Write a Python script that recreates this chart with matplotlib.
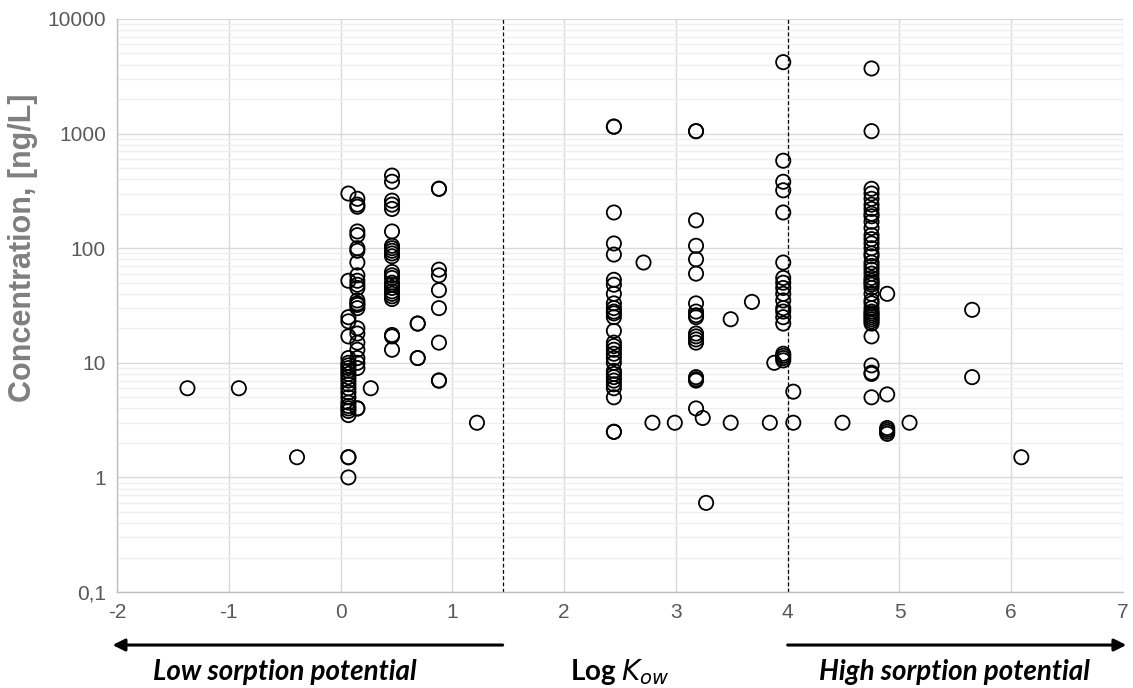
import matplotlib
matplotlib.use("Agg")
import matplotlib.pyplot as plt
from matplotlib.ticker import FixedLocator, FixedFormatter, LogLocator, NullFormatter

# ---- data: log Kow (x) and concentration ng/L (y), grouped by compound column ----
col_x = [-1.37, -0.91, -0.39, 0.07, 0.15, 0.27, 0.46, 0.69, 0.88, 1.22,
         2.445, 2.71, 2.79, 2.99, 3.18, 3.24, 3.27, 3.49, 3.68, 3.84, 3.88,
         3.96, 4.05, 4.49, 4.75, 4.89, 5.09, 5.65, 6.09]

col_y = [
    [6],
    [6],
    [1.5],
    [300, 52, 25, 23, 17, 11, 10, 9.5, 9, 8.5, 8, 7.5, 7, 6.5, 6, 5.5, 5, 4.5,
     4.2, 4, 3.8, 3.5, 1.5, 1.5, 1.0],
    [270, 240, 230, 140, 130, 100, 95, 75, 58, 52, 48, 45, 35, 33, 32, 30, 20,
     18, 15, 13, 11, 10, 9, 4, 4],
    [6],
    [430, 380, 260, 240, 220, 140, 105, 100, 95, 90, 85, 62, 58, 55, 50, 48, 45,
     42, 40, 38, 36, 17.5, 17, 13],
    [22, 22, 11, 11],
    [330, 330, 65, 58, 43, 30, 15, 7, 7],
    [3],
    [1150, 1150, 205, 110, 88, 53, 48, 40, 33, 30, 28, 27, 25, 19, 15, 14, 13,
     12, 11, 10, 8.5, 8, 7.5, 7, 6.5, 6, 5, 2.5, 2.5],
    [75],
    [3],
    [3],
    [1050, 1050, 175, 105, 80, 60, 33, 28, 26, 25, 18, 17, 16, 15, 7.5, 7.2, 7, 4],
    [3.3],
    [0.6],
    [24, 3],
    [34],
    [3],
    [10],
    [4200, 580, 380, 320, 205, 75, 55, 50, 45, 40, 35, 30, 28, 25, 22, 12, 11.5,
     11, 10.5],
    [5.6, 3],
    [3],
    [3700, 1050, 330, 300, 270, 240, 220, 200, 190, 170, 150, 130, 120, 110, 100,
     90, 85, 75, 70, 65, 60, 55, 52, 50, 48, 45, 40, 35, 33, 30, 28, 27, 26, 25,
     24, 23, 22, 17, 9.5, 8.2, 8, 5],
    [40, 5.3, 2.7, 2.6, 2.5, 2.4],
    [3],
    [29, 7.5],
    [1.5],
]

x_ticks = [-2, -1, 0, 1, 2, 3, 4, 5, 6, 7]
y_ticks = [0.1, 1, 10, 100, 1000, 10000]
y_tick_labels = ["0,1", "1", "10", "100", "1000", "10000"]
threshold_lines = [1.45, 4.0]

xs, ys = [], []
for cx, cy in zip(col_x, col_y):
    for v in cy:
        xs.append(cx)
        ys.append(v)

fig = plt.figure(figsize=(11.33, 6.88), dpi=100)
ax = fig.add_axes([0.1033, 0.1395, 0.8879, 0.8329])

ax.set_xlim(-2, 7)
ax.set_yscale("log")
ax.set_ylim(0.1, 10000)

# grid
ax.yaxis.set_major_locator(FixedLocator(y_ticks))
ax.yaxis.set_major_formatter(FixedFormatter(y_tick_labels))
ax.yaxis.set_minor_locator(LogLocator(base=10, subs=range(2, 10)))
ax.yaxis.set_minor_formatter(NullFormatter())
ax.set_xticks(x_ticks)
ax.set_xticklabels([str(t) for t in x_ticks])
ax.grid(which="major", axis="both", color="#d9d9d9", linewidth=1.0, zorder=0)
ax.grid(which="minor", axis="y", color="#efefef", linewidth=1.0, zorder=0)
ax.set_axisbelow(True)

for s in ["top", "right"]:
    ax.spines[s].set_visible(False)
for s in ["left", "bottom"]:
    ax.spines[s].set_color("#bfbfbf")
    ax.spines[s].set_linewidth(1.0)

ax.tick_params(which="both", length=0, labelsize=15, labelcolor="#595959", pad=8)
for lab in ax.get_xticklabels() + ax.get_yticklabels():
    lab.set_family("Liberation Sans")

for t in threshold_lines:
    ax.axvline(t, color="black", linestyle=(0, (3, 2)), linewidth=0.9, zorder=2)

ax.scatter(xs, ys, s=105, facecolors="none", edgecolors="black",
           linewidths=1.3, zorder=3)

ax.set_ylabel("Concentration, [ng/L]", fontsize=22, fontweight="bold",
              color="#7f7f7f", family="Liberation Sans")
ax.yaxis.set_label_coords(-0.079, 0.6)

# arrows and annotations below the axis
arrow_y = -0.0925
ax.annotate("", xy=(-2.04, arrow_y), xycoords=("data", "axes fraction"),
            xytext=(threshold_lines[0], arrow_y), textcoords=("data", "axes fraction"),
            arrowprops=dict(arrowstyle="-|>", color="black", lw=2.2,
                            mutation_scale=18, shrinkA=0, shrinkB=0),
            annotation_clip=False)
ax.annotate("", xy=(7.03, arrow_y), xycoords=("data", "axes fraction"),
            xytext=(threshold_lines[1], arrow_y), textcoords=("data", "axes fraction"),
            arrowprops=dict(arrowstyle="-|>", color="black", lw=2.2,
                            mutation_scale=18, shrinkA=0, shrinkB=0),
            annotation_clip=False)

lab_y = -0.153
ax.text(-0.5, lab_y, "Low sorption potential", transform=ax.get_xaxis_transform(),
        ha="center", va="baseline", fontsize=20, fontweight="bold", style="italic",
        family="Lato", clip_on=False)
ax.text(5.49, lab_y, "High sorption potential", transform=ax.get_xaxis_transform(),
        ha="center", va="baseline", fontsize=20, fontweight="bold", style="italic",
        family="Lato", clip_on=False)
ax.text(2.5, lab_y, r"Log $\boldsymbol{K_{ow}}$", transform=ax.get_xaxis_transform(),
        ha="center", va="baseline", fontsize=20, fontweight="bold",
        family="Lato", clip_on=False)

fig.savefig("out.png", dpi=100)
